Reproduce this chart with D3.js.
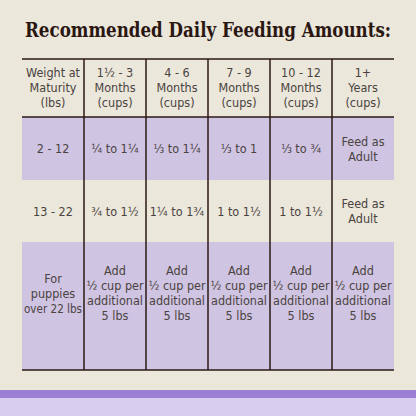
<!DOCTYPE html>
<html lang="en">
<head>
<meta charset="UTF-8">
<script src="https://d3js.org/d3.v7.min.js"></script>
<style>
  body { margin: 0; padding: 0; background: #ebe7db; }
  svg { display: block; }
  .cell { font-family: "DejaVu Sans Condensed", "Liberation Sans Narrow", sans-serif; font-size: 12.5px; fill: #4a4340; text-anchor: middle; }
  .title { font-family: "DejaVu Serif Condensed", "DejaVu Serif", serif; font-weight: bold; font-size: 21px; fill: #2b1712; text-anchor: middle; }
</style>
</head>
<body>
<svg id="chart" width="416" height="416"></svg>
<script>
  const headers = [
    ["Weight at", "Maturity", "(lbs)"],
    ["1\u00bd - 3", "Months", "(cups)"],
    ["4 - 6", "Months", "(cups)"],
    ["7 - 9", "Months", "(cups)"],
    ["10 - 12", "Months", "(cups)"],
    ["1+", "Years", "(cups)"]
  ];
  const addText = ["Add", "\u00bd cup per", "additional", "5 lbs"];
  const rows = [
    [["2 - 12"], ["\u00bc to 1\u00bc"], ["\u2153 to 1\u00bc"], ["\u2153 to 1"], ["\u2153 to \u00be"], ["Feed as", "Adult"]],
    [["13 - 22"], ["\u00be to 1\u00bd"], ["1\u00bc to 1\u00be"], ["1 to 1\u00bd"], ["1 to 1\u00bd"], ["Feed as", "Adult"]],
    [["For", "puppies", "over 22 lbs"], addText, addText, addText, addText, addText]
  ];
  const rowShaded = [true, false, true];
  const rowEdges = [117, 180, 242, 370];  // row boundaries (y)

  const svg = d3.select("#chart");

  // backdrop cloth + bottom band
  svg.append("rect").attr("width", 416).attr("height", 416).attr("fill", "#ebe7db");
  svg.append("rect").attr("y", 390).attr("width", 416).attr("height", 26).attr("fill", "#d8ccef");
  svg.append("rect").attr("y", 390).attr("width", 416).attr("height", 8).attr("fill", "#9a7fd4");

  svg.append("text").attr("class", "title").attr("x", 208).attr("y", 37)
    .attr("textLength", 366).attr("lengthAdjust", "spacingAndGlyphs")
    .text("Recommended Daily Feeding Amounts:");

  const x = d3.scaleBand().domain(d3.range(headers.length)).range([22, 394]);
  const lineH = 15;

  // shaded rows
  rows.forEach((r, i) => {
    if (!rowShaded[i]) return;
    svg.append("rect")
      .attr("x", x.range()[0]).attr("width", x.range()[1] - x.range()[0])
      .attr("y", rowEdges[i]).attr("height", rowEdges[i + 1] - rowEdges[i])
      .attr("fill", "#c7b8e6").attr("opacity", 0.75);
  });

  function writeLines(lines, cx, cy) {
    const t = svg.append("text").attr("class", "cell");
    lines.forEach((s, k) => {
      const ts = t.append("tspan").attr("x", cx)
        .attr("y", cy + (k - (lines.length - 1) / 2) * lineH + 4.5).text(s);
      if (ts.node().getComputedTextLength() > x.bandwidth() - 4) {
        ts.attr("textLength", x.bandwidth() - 4).attr("lengthAdjust", "spacingAndGlyphs");
      }
    });
  }

  headers.forEach((h, j) => writeLines(h, x(j) + x.bandwidth() / 2, 87));
  rows.forEach((r, i) => {
    const cy = (rowEdges[i] + rowEdges[i + 1]) / 2 + (i === 2 ? -13 : 0);
    r.forEach((c, j) => writeLines(c, x(j) + x.bandwidth() / 2, cy));
  });

  // grid lines
  const ink = "#2b1a14";
  [59, 117, 370].forEach(y => {
    svg.append("line").attr("x1", 22).attr("x2", 394).attr("y1", y).attr("y2", y)
      .attr("stroke", ink).attr("stroke-width", 1.5);
  });
  d3.range(1, headers.length).forEach(j => {
    svg.append("line").attr("x1", x(j)).attr("x2", x(j)).attr("y1", 59).attr("y2", 370)
      .attr("stroke", ink).attr("stroke-width", 1.5);
  });
</script>
</body>
</html>
